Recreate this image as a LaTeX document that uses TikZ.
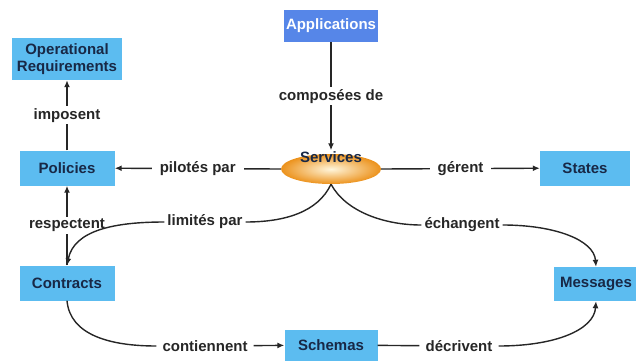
\documentclass[tikz,border=0pt]{standalone}
\usepackage{fontspec}
\setmainfont{Liberation Sans}
\usetikzlibrary{arrows.meta,positioning,shapes.geometric}
\definecolor{SkyBox}{RGB}{92,188,240}
\definecolor{AppBlue}{RGB}{86,134,232}
\definecolor{NavyText}{RGB}{24,40,70}
\definecolor{DiscOrange}{RGB}{236,146,28}
\definecolor{DiscLight}{RGB}{255,246,220}

\begin{document}
\begin{tikzpicture}[>={Latex[length=7pt,width=6pt]},x=1pt,y=-1pt,
  box/.style={fill=SkyBox,text=NavyText,font=\bfseries\fontsize{15}{17}\selectfont,align=center,inner sep=1pt},
  lbl/.style={font=\bfseries\fontsize{15}{17}\selectfont,text=black!85,inner ysep=2pt,inner xsep=3pt},
  link/.style={line width=1.4pt,black!85}]
\useasboundingbox (0,0) rectangle (636,361);
% boxes
\node[box,fill=AppBlue,text=white,minimum width=94pt,minimum height=32pt] (app) at (331,26) {Applications};
\node[box,minimum width=110pt,minimum height=42pt] (opr) at (67,59) {Operational\\Requirements};
\node[box,minimum width=95pt,minimum height=35pt] (pol) at (67,168) {Policies};
\node[box,minimum width=95pt,minimum height=35pt] (con) at (67,283) {Contracts};
\node[box,minimum width=90pt,minimum height=35pt] (sta) at (585,168) {States};
\node[box,minimum width=84pt,minimum height=34pt] (msg) at (596,284) {Messages};
\node[box,minimum width=93pt,minimum height=31pt] (sch) at (331,345) {Schemas};
% services
\node[ellipse,inner color=DiscLight,outer color=DiscOrange,minimum width=100pt,minimum height=30pt,inner sep=0pt] (disc) at (331,169) {};
\node[font=\bfseries\fontsize{15}{17}\selectfont,text=NavyText,inner sep=1pt] (srv) at (331,157) {Services};
% labels on curves
\node[lbl] (lim) at (205,222) {limités par};
\node[lbl] (ech) at (462,225) {échangent};
\node[lbl,inner xsep=6pt] (cnt) at (205,346) {contiennent};
\node[lbl,inner xsep=6pt] (dec) at (459,346) {décrivent};
% links
\draw[->,link] (app) -- node[lbl,fill=white,inner xsep=1pt]{composées de} (srv);
\draw[->,link] (pol) -- node[lbl,fill=white]{imposent} (opr);
\draw[->,link] (con) -- node[lbl,fill=white]{respectent} (pol);
\draw[->,link] (disc.west) -- node[lbl,fill=white,inner xsep=8pt]{pilotés par} (pol);
\draw[->,link] (disc.east) -- node[lbl,fill=white,inner xsep=8pt]{gérent} (sta);
\draw[link] (disc.south) .. controls (318,212) and (285,222) .. (lim.east);
\draw[->,link] (lim.west) .. controls (115,222) and (74,230) .. (con.north);
\draw[link] (disc.south) .. controls (346,212) and (385,225) .. (ech.west);
\draw[->,link] (ech.east) .. controls (555,225) and (594,240) .. (msg.north);
\draw[link] (con.south) .. controls (70,335) and (110,346) .. (cnt.west);
\draw[->,link] (cnt) -- (sch);
\draw[link] (sch) -- (dec);
\draw[->,link] (dec.east) .. controls (555,346) and (594,330) .. (msg.south);
\end{tikzpicture}
\end{document}
